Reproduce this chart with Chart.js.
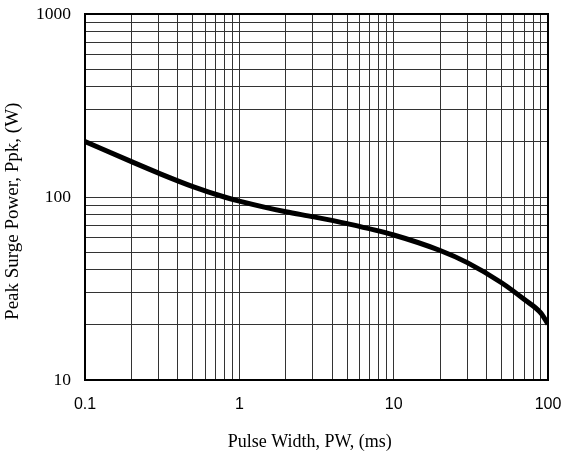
<!DOCTYPE html>
<html>
<head>
<meta charset="utf-8">
<script src="https://cdn.jsdelivr.net/npm/chart.js@4/dist/chart.umd.min.js"></script>
<style>
  html, body { margin: 0; padding: 0; background: #fff; }
  #wrap { width: 563px; height: 457px; }
</style>
</head>
<body>
<div id="wrap"><canvas id="surgeChart"></canvas></div>
<script>
// Pulse width (ms) vs peak surge power (W)
var pulseWidth = [0.1, 0.2, 0.3, 0.5, 0.8, 1, 2, 3, 5, 10, 20, 30, 50, 70, 90, 100];
var peakPower = [201, 156, 135, 114, 100, 95, 83, 78, 71.5, 62, 51, 43.8, 34, 27.6, 23.2, 20.2];

// grid ticks and labelled ticks
var xTicks = [0.1, 0.2, 0.3, 0.4, 0.5, 0.6, 0.7, 0.8, 0.9, 1, 2, 3, 4, 5, 6, 7, 8, 9, 10, 20, 30, 40, 50, 60, 70, 80, 90, 100];
var yTicks = [10, 20, 30, 40, 50, 60, 70, 80, 90, 100, 200, 300, 400, 500, 600, 700, 800, 900, 1000];
var xLabels = ["0.1", "1", "10", "100"];
var yLabels = ["10", "100", "1000"];

Chart.defaults.color = "#000";

var points = pulseWidth.map(function (x, i) {
  return { x: x, y: peakPower[i] };
});

function labelFor(list) {
  return function (value) {
    var s = String(Math.round(value * 10) / 10);
    return list.indexOf(s) >= 0 ? s : "";
  };
}

// thick frame around plot area
var framePlugin = {
  id: "frame",
  afterDraw: function (chart) {
    var a = chart.chartArea;
    var c = chart.ctx;
    c.save();
    c.strokeStyle = "#000";
    c.lineWidth = 2;
    c.strokeRect(a.left, a.top, a.right - a.left, a.bottom - a.top);
    c.restore();
  },
};

new Chart(document.getElementById("surgeChart"), {
  type: "line",
  data: {
    datasets: [
      {
        data: points,
        borderColor: "#000",
        borderWidth: 5,
        pointRadius: 0,
        cubicInterpolationMode: "monotone",
        fill: false,
      },
    ],
  },
  options: {
    responsive: true,
    maintainAspectRatio: false,
    animation: false,
    layout: { padding: { top: 14, right: 15, left: 0, bottom: 0 } },
    plugins: { legend: { display: false }, tooltip: { enabled: false } },
    scales: {
      x: {
        type: "logarithmic",
        min: 0.1,
        max: 100,
        afterBuildTicks: function (scale) {
          scale.ticks = xTicks.map(function (v) { return { value: v }; });
        },
        afterFit: function (scale) {
          scale.height = 77;
          scale.paddingLeft = 0;
          scale.paddingRight = 0;
        },
        grid: { color: "#333", lineWidth: 1, drawTicks: false },
        border: { display: false },
        ticks: {
          autoSkip: false,
          maxRotation: 0,
          padding: 15,
          font: { family: "'Liberation Sans', Arial, sans-serif", size: 16 },
          callback: labelFor(xLabels),
        },
        title: {
          display: true,
          text: "Pulse Width, PW, (ms)   ",
          font: { family: "'Liberation Serif', 'Times New Roman', serif", size: 18 },
          padding: { top: 12 },
        },
      },
      y: {
        type: "logarithmic",
        min: 10,
        max: 1000,
        afterBuildTicks: function (scale) {
          scale.ticks = yTicks.map(function (v) { return { value: v }; });
        },
        afterFit: function (scale) {
          scale.width = 85;
          scale.paddingTop = 0;
          scale.paddingBottom = 0;
        },
        grid: { color: "#333", lineWidth: 1, drawTicks: false },
        border: { display: false },
        ticks: {
          autoSkip: false,
          padding: 14,
          font: { family: "'Liberation Serif', 'Times New Roman', serif", size: 17.5 },
          callback: labelFor(yLabels),
        },
        title: {
          display: true,
          text: "Peak Surge Power, Ppk, (W)      ",
          font: { family: "'Liberation Serif', 'Times New Roman', serif", size: 19 },
          padding: { top: 2, bottom: 2 },
        },
      },
    },
  },
  plugins: [framePlugin],
});
</script>
</body>
</html>
